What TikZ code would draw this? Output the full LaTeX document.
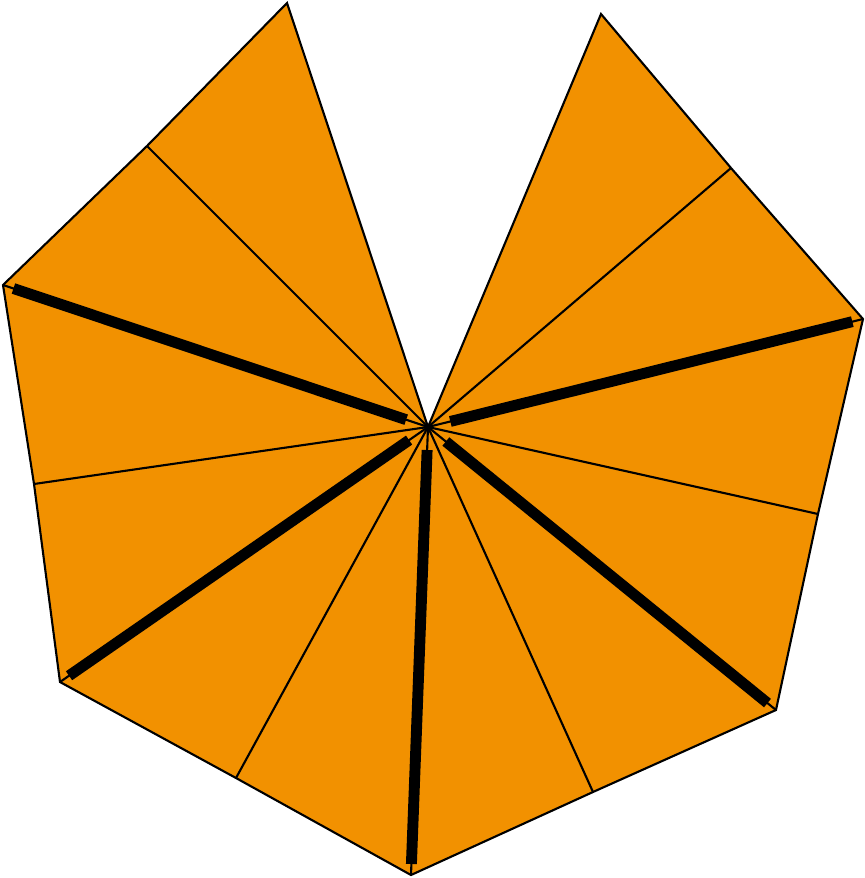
\documentclass[tikz,border=0pt]{standalone}
\usepackage{tikz}

\definecolor{fanorange}{RGB}{242,145,0}

\begin{document}
\begin{tikzpicture}[x = 0.01cm, y = -0.01cm]
	\useasboundingbox (0,0) rectangle (865,878);

	\coordinate (o) at (428,427);
	\coordinate (a) at (287,3);
	\coordinate (b) at (147,146);
	\coordinate (c) at (3,285);
	\coordinate (d) at (34,484);
	\coordinate (e) at (60,682);
	\coordinate (f) at (236,778);
	\coordinate (g) at (411,875);
	\coordinate (h) at (593,792);
	\coordinate (i) at (776,710);
	\coordinate (j) at (818,514);
	\coordinate (k) at (863,319);
	\coordinate (l) at (731,168);
	\coordinate (m) at (601,14);

	\draw[fill = fanorange, line width = 0.6pt, line join = miter]
		(o) -- (a) -- (b) -- (c) -- (d) -- (e) -- (f) -- (g) -- (h) -- (i) -- (j) -- (k) -- (l) -- (m) -- cycle;

	\foreach \v in {b,c,d,e,f,g,h,i,j,k,l}
		\draw[line width = 0.6pt] (o) -- (\v);

	\foreach \v in {c,e,g,i,k}
		\draw[line width = 3.1pt, shorten < = 0.23cm, shorten > = 0.11cm] (o) -- (\v);
\end{tikzpicture}
\end{document}
